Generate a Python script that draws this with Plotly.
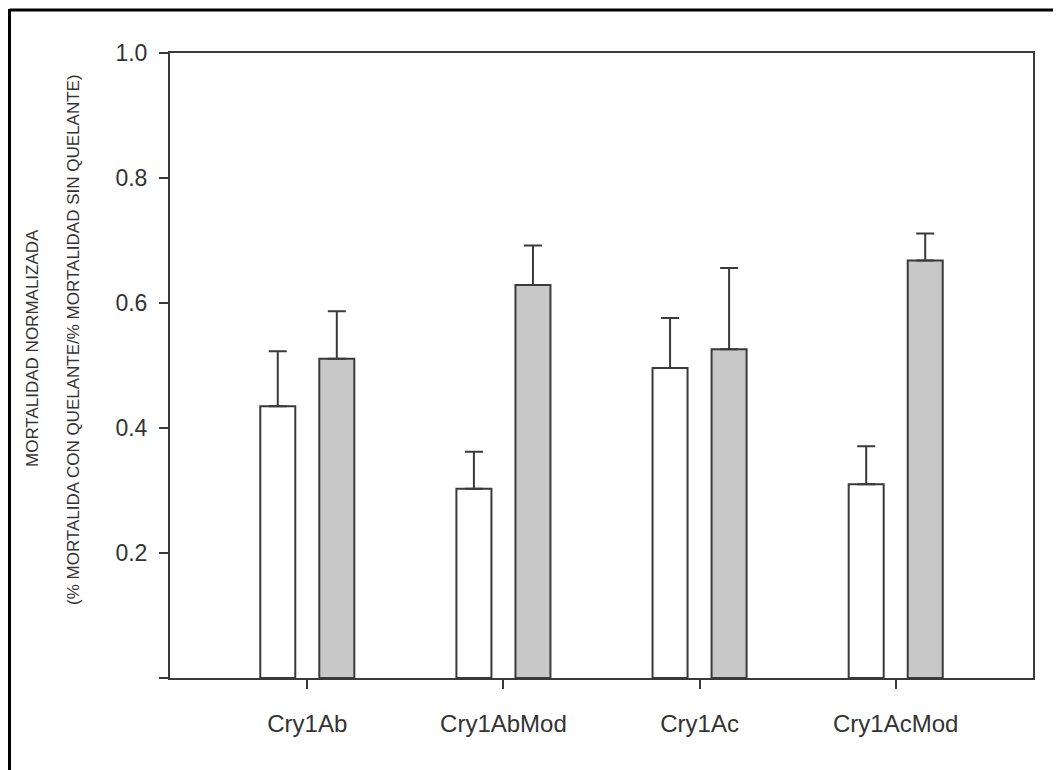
import plotly.graph_objects as go

categories = ["Cry1Ab", "Cry1AbMod", "Cry1Ac", "Cry1AcMod"]
sin_vals = [0.435, 0.303, 0.496, 0.310]
sin_err = [0.088, 0.059, 0.080, 0.061]
con_vals = [0.511, 0.629, 0.526, 0.668]
con_err = [0.076, 0.063, 0.130, 0.043]
y_tickvals = [0.0, 0.2, 0.4, 0.6, 0.8, 1.0]
y_ticktext = ["", "0.2", "0.4", "0.6", "0.8", "1.0"]
ytitle1 = "MORTALIDAD NORMALIZADA"
ytitle2 = "(% MORTALIDA CON QUELANTE/% MORTALIDAD SIN QUELANTE)"

OFF = 8  # page body margin
W, H = 1061 - OFF, 770 - OFF
L, R, T, B = 170 - OFF, 28, 53 - OFF, H - (678 - OFF)
pw, ph = W - L - R, H - T - B

def px(x):
    return (x - OFF - L) / pw

def py(y):
    return (H - B - (y - OFF)) / ph

FONT = "Liberation Sans, Arial, sans-serif"
LINE = "#3a3a3a"

fig = go.Figure()
for vals, errs, fill in [(sin_vals, sin_err, "#ffffff"), (con_vals, con_err, "#c8c8c8")]:
    fig.add_trace(go.Bar(
        x=categories, y=vals,
        marker=dict(color=fill, line=dict(color=LINE, width=2)),
        error_y=dict(type="data", array=errs, arrayminus=[0] * len(errs),
                     symmetric=False, color=LINE, thickness=2, width=9),
        showlegend=False,
    ))

fig.update_layout(
    width=W, height=H,
    margin=dict(l=L, r=R, t=T, b=B, pad=0),
    paper_bgcolor="white", plot_bgcolor="white",
    barmode="group", bargap=0.398, bargroupgap=0.407,
    font=dict(family=FONT, color="#333333"),
    xaxis=dict(range=[-0.7, 3.7], showgrid=False, zeroline=False,
               showline=True, linecolor=LINE, linewidth=2, mirror=True,
               ticks="outside", ticklen=9, tickwidth=2, tickcolor=LINE,
               tickfont=dict(size=24, family=FONT, color="#333333"),
               ticklabelstandoff=14),
    yaxis=dict(range=[0, 1.0], showgrid=False, zeroline=False,
               showline=True, linecolor=LINE, linewidth=2, mirror=True,
               ticks="outside", ticklen=9, tickwidth=2, tickcolor=LINE,
               tickvals=y_tickvals, ticktext=y_ticktext,
               tickfont=dict(size=23, family=FONT, color="#333333"),
               ticklabelstandoff=7),
)

fig.add_annotation(text=ytitle1, xref="paper", yref="paper",
                   x=px(32), y=py(348), textangle=-90, showarrow=False,
                   font=dict(size=17, family=FONT, color="#333333"),
                   xanchor="center", yanchor="middle")
fig.add_annotation(text=ytitle2, xref="paper", yref="paper",
                   x=px(73), y=py(340), textangle=-90, showarrow=False,
                   font=dict(size=17, family=FONT, color="#333333"),
                   xanchor="center", yanchor="middle")

# outer frame (top and left edges visible)
fig.add_shape(type="line", xref="paper", yref="paper",
              x0=px(9.5), x1=px(1070), y0=py(10), y1=py(10),
              line=dict(color="black", width=3))
fig.add_shape(type="line", xref="paper", yref="paper",
              x0=px(9.5), x1=px(9.5), y0=py(9), y1=py(780),
              line=dict(color="black", width=3))

fig.write_html("out.html")
